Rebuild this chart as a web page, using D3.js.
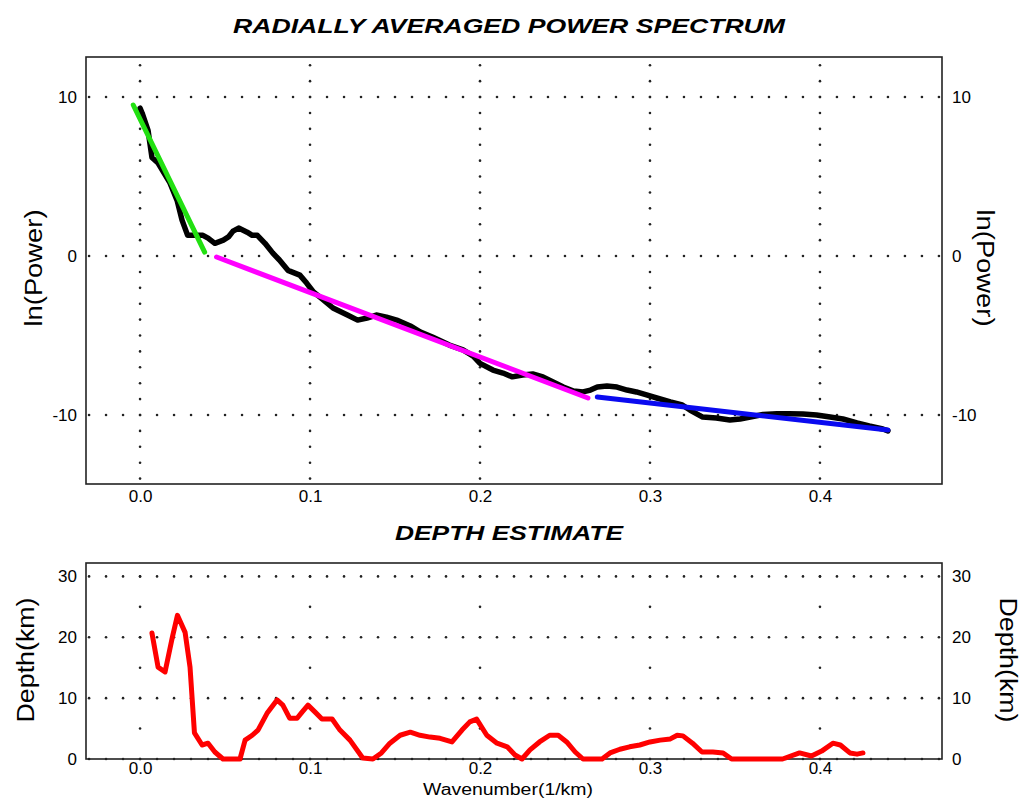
<!DOCTYPE html>
<html>
<head>
<meta charset="utf-8">
<title>Radially Averaged Power Spectrum</title>
<style>
  body { margin: 0; background: #fff; }
  text { font-family: "Liberation Sans", Arial, sans-serif; fill: #000; }
  .title { font-weight: bold; font-style: italic; font-size: 21px; }
  .tick text { font-size: 17px; }
</style>
</head>
<body>
<svg width="1022" height="798"></svg>
<script src="https://d3js.org/d3.v7.min.js"></script>
<script>
// spectrum (black curve)
var powerX = [0.000,0.0012,0.0047,0.007,0.0106,0.0176,0.0218,0.0247,0.028,0.037,0.040,0.044,0.049,0.052,0.0547,0.058,0.063,0.066,0.069,0.0735,0.078,0.082,0.087,0.094,0.098,0.102,0.108,0.1135,0.122,0.128,0.1335,0.139,0.145,0.151,0.159,0.165,0.172,0.182,0.19,0.196,0.200,0.2076,0.2135,0.219,0.225,0.231,0.237,0.243,0.249,0.255,0.2606,0.265,0.269,0.2747,0.2806,0.2865,0.292,0.298,0.304,0.312,0.319,0.3235,0.331,0.339,0.347,0.353,0.359,0.3665,0.3747,0.382,0.39,0.398,0.406,0.4135,0.4218,0.429,0.437,0.44];
var powerY = [9.3,9.0,7.9,6.2,5.85,4.6,3.5,2.26,1.3,1.3,1.13,0.8,1.0,1.2,1.57,1.76,1.5,1.3,1.3,0.8,0.2,-0.25,-0.9,-1.2,-1.7,-2.26,-2.77,-3.27,-3.71,-4.03,-3.9,-3.71,-3.84,-4.03,-4.4,-4.78,-5.09,-5.6,-5.9,-6.3,-6.75,-7.17,-7.36,-7.6,-7.48,-7.42,-7.6,-7.92,-8.24,-8.49,-8.55,-8.43,-8.24,-8.18,-8.24,-8.43,-8.55,-8.74,-8.93,-9.18,-9.37,-9.69,-10.13,-10.19,-10.31,-10.25,-10.13,-9.97,-9.92,-9.92,-9.94,-10.0,-10.13,-10.25,-10.5,-10.69,-10.88,-11.0];

// straight-line fits: [x0, y0, x1, y1]
var fitDeep = [-0.004, 9.5, 0.038, 0.25];
var fitMid = [0.045, -0.06, 0.2635, -8.93];
var fitShallow = [0.269, -8.87, 0.44, -10.94];

// depth estimate (red curve)
var depthX = [0.007,0.0106,0.0147,0.019,0.022,0.0265,0.0294,0.032,0.0365,0.040,0.044,0.0488,0.0588,0.0618,0.066,0.0694,0.0747,0.0806,0.084,0.088,0.0924,0.0953,0.0988,0.103,0.107,0.113,0.1176,0.1235,0.131,0.137,0.142,0.147,0.153,0.159,0.1647,0.1706,0.1765,0.1835,0.1894,0.194,0.198,0.204,0.21,0.216,0.2206,0.2247,0.2294,0.235,0.241,0.246,0.251,0.256,0.2606,0.2718,0.2765,0.2823,0.288,0.294,0.300,0.306,0.312,0.316,0.3194,0.325,0.3306,0.337,0.343,0.348,0.378,0.388,0.395,0.401,0.4076,0.412,0.4176,0.4218,0.4253];
var depthY = [20.7,15.1,14.3,20.0,23.6,20.8,15.1,4.3,2.3,2.6,1.15,0,0,3.1,3.9,4.75,7.5,9.7,8.85,6.7,6.7,7.7,8.85,7.7,6.56,6.56,4.75,3.1,0.16,0,1.0,2.6,3.9,4.4,3.9,3.6,3.4,2.8,4.75,6.1,6.56,3.9,2.6,2.0,0.66,0,1.5,2.8,3.9,3.9,2.8,1.15,0,0,1.0,1.6,2.0,2.3,2.8,3.1,3.3,3.9,3.8,2.6,1.15,1.15,1.0,0,0,1.0,0.5,1.3,2.6,2.3,1.0,0.8,1.0];

// tick labels
var xTicks = [0, 0.1, 0.2, 0.3, 0.4];
var powerTicks = [-10, 0, 10];
var depthTicks = [0, 10, 20, 30];

var svg = d3.select("svg");
var left = 86, right = 942;

var x = d3.scaleLinear().domain([-0.0318, 0.4718]).range([left, right]);
var yP = d3.scaleLinear().domain([-14.34, 12.52]).range([484, 57]);
var yD = d3.scaleLinear().domain([0, 32.2]).range([759, 563]);

// dotted grid, drawn as little dots like the original
function dotGrid(y, rows, colStep, colMin, colMax) {
  var g = svg.append("g").attr("fill", "#222");
  var xs = d3.range(Math.ceil(x.domain()[0] * 100), Math.floor(x.domain()[1] * 100) + 1).map(function(d) { return d / 100; });
  rows.forEach(function(r) {
    g.selectAll(null).data(xs).enter().append("circle")
      .attr("cx", function(d) { return x(d); })
      .attr("cy", y(r))
      .attr("r", 1.3);
  });
  var ys = d3.range(colMin, colMax + 0.001, colStep);
  xTicks.forEach(function(t) {
    g.selectAll(null).data(ys).enter().append("circle")
      .attr("cx", x(t))
      .attr("cy", function(d) { return y(d); })
      .attr("r", 1.3);
  });
}

dotGrid(yP, powerTicks, 1, -14, 12);
dotGrid(yD, depthTicks, 5, 0, 30);

// frames
[[yP, 57, 484], [yD, 563, 759]].forEach(function(f) {
  svg.append("rect")
    .attr("x", left).attr("y", f[1])
    .attr("width", right - left).attr("height", f[2] - f[1])
    .attr("fill", "none").attr("stroke", "#222").attr("stroke-width", 1.6);
});

// axes (labels only, the frame is the axis line)
var plain = function(d) { return String(d); };
function axis(gen, tx, ty) {
  var a = svg.append("g").attr("transform", "translate(" + tx + "," + ty + ")").call(gen);
  a.select(".domain").remove();
  a.selectAll("line").remove();
  a.selectAll("text").attr("fill", "#000");
  return a;
}
axis(d3.axisBottom(x).tickValues(xTicks).tickSize(0).tickPadding(6).tickFormat(d3.format(".1f")), 0, 484);
axis(d3.axisBottom(x).tickValues(xTicks).tickSize(0).tickPadding(3).tickFormat(d3.format(".1f")), 0, 759);
axis(d3.axisLeft(yP).tickValues(powerTicks).tickSize(0).tickPadding(9).tickFormat(plain), left, 0);
axis(d3.axisRight(yP).tickValues(powerTicks).tickSize(0).tickPadding(10).tickFormat(plain), right, 0);
axis(d3.axisLeft(yD).tickValues(depthTicks).tickSize(0).tickPadding(9).tickFormat(plain), left, 0);
axis(d3.axisRight(yD).tickValues(depthTicks).tickSize(0).tickPadding(10).tickFormat(plain), right, 0);

// curves
var line = d3.line();
svg.append("path")
  .datum(powerX.map(function(d, i) { return [x(d), yP(powerY[i])]; }))
  .attr("d", line)
  .attr("fill", "none").attr("stroke", "#000").attr("stroke-width", 5.5)
  .attr("stroke-linejoin", "round").attr("stroke-linecap", "round");

[[fitDeep, "#22e011"], [fitMid, "#ff00ff"], [fitShallow, "#0a0af0"]].forEach(function(f) {
  var p = f[0];
  svg.append("path")
    .datum([[x(p[0]), yP(p[1])], [x(p[2]), yP(p[3])]])
    .attr("d", line)
    .attr("stroke", f[1]).attr("stroke-width", 5).attr("stroke-linecap", "round");
});

svg.append("path")
  .datum(depthX.map(function(d, i) { return [x(d), yD(depthY[i])]; }))
  .attr("d", line)
  .attr("fill", "none").attr("stroke", "#ff0000").attr("stroke-width", 5)
  .attr("stroke-linejoin", "round").attr("stroke-linecap", "round");

// titles
svg.append("text").attr("class", "title")
  .attr("x", 509).attr("y", 33).attr("text-anchor", "middle")
  .attr("textLength", 552).attr("lengthAdjust", "spacingAndGlyphs")
  .text("RADIALLY AVERAGED POWER SPECTRUM");
svg.append("text").attr("class", "title")
  .attr("x", 509).attr("y", 540).attr("text-anchor", "middle")
  .attr("textLength", 228).attr("lengthAdjust", "spacingAndGlyphs")
  .text("DEPTH ESTIMATE");

svg.append("text")
  .attr("x", 508).attr("y", 795).attr("text-anchor", "middle")
  .attr("font-size", 16)
  .attr("textLength", 170).attr("lengthAdjust", "spacingAndGlyphs")
  .text("Wavenumber(1/km)");

// side labels
function sideLabel(text, cx, cy, angle, len) {
  svg.append("text")
    .attr("transform", "translate(" + cx + "," + cy + ") rotate(" + angle + ")")
    .attr("text-anchor", "middle").attr("dy", "0.35em")
    .attr("font-size", 23)
    .attr("textLength", len).attr("lengthAdjust", "spacingAndGlyphs")
    .text(text);
}
sideLabel("ln(Power)", 34, 268, -90, 117);
sideLabel("ln(Power)", 985, 268, 90, 117);
sideLabel("Depth(km)", 26, 660, -90, 125);
sideLabel("Depth(km)", 1008, 660, 90, 125);
</script>
</body>
</html>
